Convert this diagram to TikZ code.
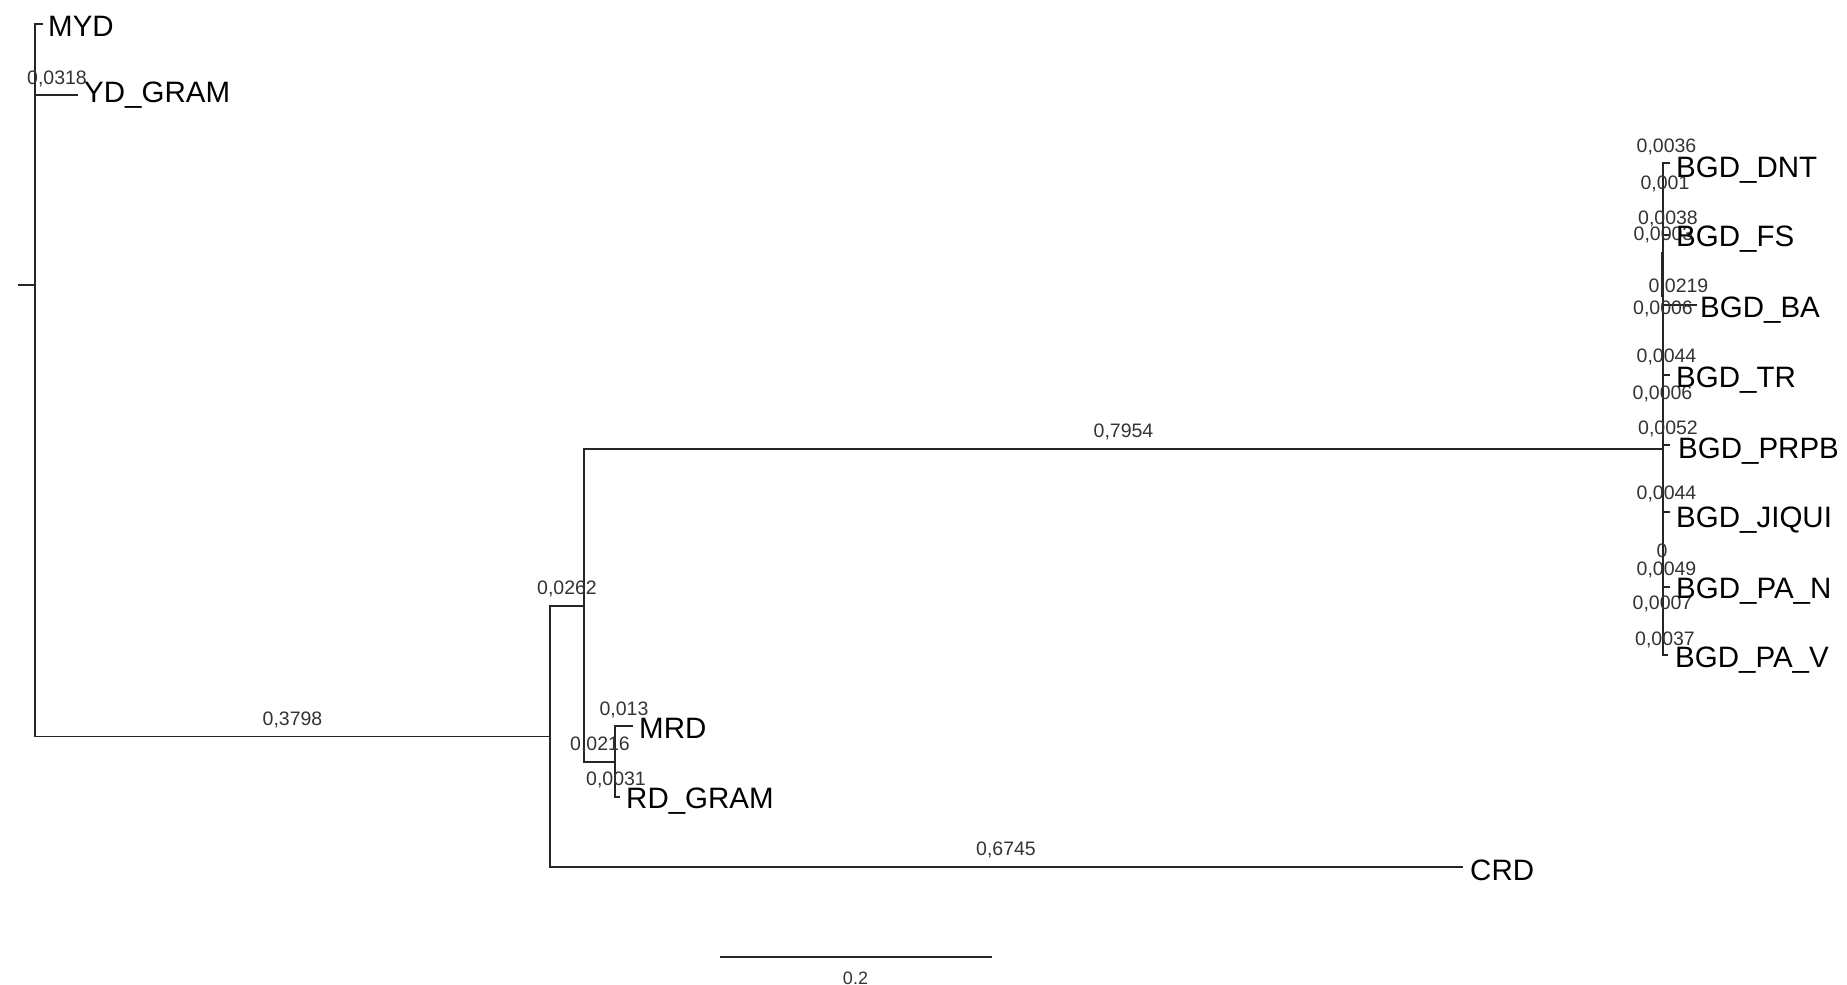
\documentclass[tikz,border=0pt]{standalone}
\usepackage{fontspec}
\setmainfont{Liberation Sans}
\begin{document}
\begin{tikzpicture}[x=1pt,y=-1pt,
  br/.style={line width=1.4pt, black!85},
  leaf/.style={anchor=base west, inner sep=0pt, font=\fontsize{29.5}{32}\selectfont},
  bl/.style={anchor=base, inner sep=0pt, font=\fontsize{19.5}{22}\selectfont, text=black!80},
  sc/.style={anchor=base, inner sep=0pt, font=\fontsize{18}{20}\selectfont, text=black!80}]
\useasboundingbox (0,0) rectangle (1847,985);
% internal nodes
\coordinate (rs) at (18,285);
\coordinate (r) at (35,285);
\coordinate (A) at (550,736.5);
\coordinate (B) at (584,606);
\coordinate (D) at (615,762);
\coordinate (C) at (1663,449);
\coordinate (C2) at (1661.5,252);
\coordinate (C3) at (1661.5,297);
% tick ends
\coordinate (tMYD) at (43,24);
\coordinate (tYD) at (78,95);
\coordinate (tCRD) at (1463,867);
\coordinate (tMRD) at (633,726);
\coordinate (tRD) at (620,797);
\coordinate (tDNT) at (1670,163);
\coordinate (tFS) at (1670,235);
\coordinate (tBA) at (1697,305);
\coordinate (tTR) at (1670,375);
\coordinate (tPRPB) at (1670,445);
\coordinate (tJIQUI) at (1670,512);
\coordinate (tPAN) at (1670,587);
\coordinate (tPAV) at (1668,655);
% branches
\draw[br] (rs) -- (r);
\draw[br] (r) |- (tMYD);
\draw[br] (r) |- (tYD);
\draw[br] (r) |- (A);
\draw[br] (A) |- (B);
\draw[br] (A) |- (tCRD);
\draw[br] (B) |- (C);
\draw[br] (B) |- (D);
\draw[br] (D) |- (tMRD);
\draw[br] (D) |- (tRD);
\draw[br] (C) |- (tDNT);
\draw[br] (C) |- (tFS);
\draw[br] (C) |- (tBA);
\draw[br] (C) |- (tTR);
\draw[br] (C) |- (tPRPB);
\draw[br] (C) |- (tJIQUI);
\draw[br] (C) |- (tPAN);
\draw[br] (C) |- (tPAV);
\draw[br] (C2) -- (C3);
% branch length labels
\node[bl] (l1) at (57,84) {0,0318};
\node[bl] (l2) at (292.5,725) {0,3798};
\node[bl] (l3) at (567,594) {0,0262};
\node[bl] (l4) at (1123.5,437) {0,7954};
\node[bl] (l5) at (1006,855) {0,6745};
\node[bl] (l6) at (600,750) {0,0216};
\node[bl] (l7) at (624,715) {0,013};
\node[bl] (l8) at (616,785) {0,0031};
\node[bl] (r1) at (1666.5,152) {0,0036};
\node[bl] (r2) at (1665,189) {0,001};
\node[bl] (r3) at (1668,224) {0,0038};
\node[bl] (r4) at (1663.5,240) {0,0003};
\node[bl] (r5) at (1678.5,292) {0,0219};
\node[bl] (r6) at (1663,314) {0,0006};
\node[bl] (r7) at (1666.5,362) {0,0044};
\node[bl] (r8) at (1662.5,399) {0,0006};
\node[bl] (r9) at (1668,434) {0,0052};
\node[bl] (r10) at (1666.5,499) {0,0044};
\node[bl] (r11) at (1662,557) {0};
\node[bl] (r12) at (1666.5,575) {0,0049};
\node[bl] (r13) at (1662.5,609) {0,0007};
\node[bl] (r14) at (1665,645) {0,0037};
% leaf labels
\node[leaf] (MYD) at (48,36) {MYD};
\node[leaf] (YD) at (84,102) {YD\_GRAM};
\node[leaf] (MRD) at (639,738) {MRD};
\node[leaf] (RD) at (626,808) {RD\_GRAM};
\node[leaf] (CRD) at (1470,880) {CRD};
\node[leaf] (DNT) at (1676,177) {BGD\_DNT};
\node[leaf] (FS) at (1676,246) {BGD\_FS};
\node[leaf] (BA) at (1700,317) {BGD\_BA};
\node[leaf] (TR) at (1676,387) {BGD\_TR};
\node[leaf] (PRPB) at (1678,458) {BGD\_PRPB};
\node[leaf] (JIQUI) at (1676,527) {BGD\_JIQUI};
\node[leaf] (PAN) at (1676,598) {BGD\_PA\_N};
\node[leaf] (PAV) at (1675,667) {BGD\_PA\_V};
% scale bar
\coordinate (s1) at (720,957);
\coordinate (s2) at (992,957);
\draw[br] (s1) -- (s2);
\node[sc] (sl) at (855.5,984) {0.2};
\end{tikzpicture}
\end{document}
